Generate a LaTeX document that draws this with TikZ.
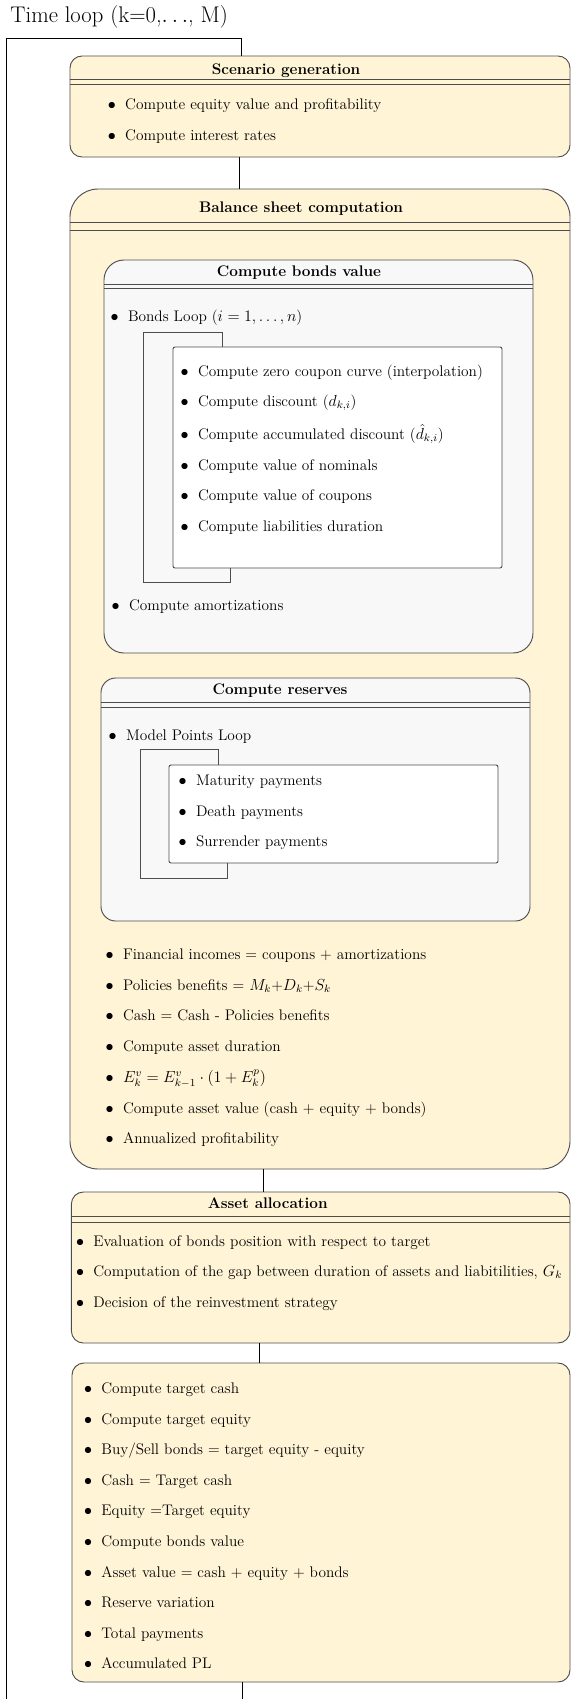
\documentclass[tikz,border=0pt]{standalone}
\usepackage{tikz}
\usetikzlibrary{fit}
\definecolor{stateyellow}{HTML}{FFF4D6}
\definecolor{stategray}{HTML}{F8F8F8}
\definecolor{stateline}{HTML}{4D4D4D}
\newcommand{\bul}{$\bullet$\hspace{7pt}}

\begin{document}
\begin{tikzpicture}[x=0.75pt,y=-0.75pt,line width=0.7pt,font=\fontsize{11.5}{14}\selectfont]
      \useasboundingbox (0,0) rectangle (571,1699);
      \tikzstyle{bigbox}=[draw=stateline,fill=stateyellow,rounded corners=9pt,inner sep=0]
      \tikzstyle{subbox}=[draw=stateline,fill=stategray,rounded corners=15pt,inner sep=0]
      \tikzstyle{loopbox}=[draw=stateline,fill=white,rounded corners=1.5pt,inner sep=0]
      \tikzstyle{loopline}=[draw=stateline,line width=0.6pt]
      \tikzstyle{title}=[font=\fontsize{11.5}{14}\selectfont\bfseries,inner sep=0]
      \tikzstyle{itm}=[anchor=base west,inner sep=0]

      \node[anchor=base west,inner sep=0,font=\fontsize{17}{20}\selectfont] (looptitle) at (10,22.5) {Time loop (k=0,$\ldots$, M)};

      % scenario
      \node[bigbox,fit={(70,56) (570,157)}] (scen) {};
      \node[title] (scent) at (286,71) {Scenario generation};
      \draw[stateline] ([yshift=-18pt]scen.north west) -- ([yshift=-18pt]scen.north east);
      \draw[stateline] ([yshift=-21.75pt]scen.north west) -- ([yshift=-21.75pt]scen.north east);
      \node[itm] (s1) at (107.4,109.5) {\bul Compute equity value and profitability};
      \node[itm] (s2) at (107.4,140.5) {\bul Compute interest rates};

      % balance sheet
      \node[bigbox,rounded corners=21pt,fit={(70,189) (570,1169)}] (bal) {};
      \node[title] (balt) at (301,209) {Balance sheet computation};
      \draw[stateline] ([yshift=-25.5pt]bal.north west) -- ([yshift=-25.5pt]bal.north east);
      \draw[stateline] ([yshift=-31.5pt]bal.north west) -- ([yshift=-31.5pt]bal.north east);

      % bonds
      \node[subbox,fit={(104,260) (533,653)}] (bonds) {};
      \node[title] (bondst) at (299,273) {Compute bonds value};
      \draw[stateline] ([yshift=-18.75pt]bonds.north west) -- ([yshift=-18.75pt]bonds.north east);
      \draw[stateline] ([yshift=-21.75pt]bonds.north west) -- ([yshift=-21.75pt]bonds.north east);
      \node[itm] (b0) at (110.2,321.5) {\bul Bonds Loop ($i=1,\ldots,n$)};
      \coordinate (bl1) at (143,332);
      \coordinate (bl2) at (222,332);
      \coordinate (bl3) at (143,582);
      \coordinate (bl4) at (230,582);
      \node[loopbox,fit={(173,347) (502,568)}] (bondsin) {};
      \draw[loopline] (bl3) -- (bl1) -- (bl2) -- (bondsin.north -| bl2);
      \draw[loopline] (bl3) -- (bl4) -- (bondsin.south -| bl4);
      \node[itm] (b1) at (180.2,376.5) {\bul Compute zero coupon curve (interpolation)};
      \node[itm] (b2) at (180.2,406.5) {\bul Compute discount ($d_{k,i}$)};
      \node[itm] (b3) at (180.2,439.5) {\bul Compute accumulated discount ($\hat{d}_{k,i}$)};
      \node[itm] (b4) at (180.2,470.5) {\bul Compute value of nominals};
      \node[itm] (b5) at (180.2,500.5) {\bul Compute value of coupons};
      \node[itm] (b6) at (180.2,531.5) {\bul Compute liabilities duration};
      \node[itm] (b7) at (111.2,610.5) {\bul Compute amortizations};

      % reserves
      \node[subbox,rounded corners=11pt,fit={(101,678) (530,921)}] (res) {};
      \node[title] (rest) at (280,691) {Compute reserves};
      \draw[stateline] ([yshift=-18.75pt]res.north west) -- ([yshift=-18.75pt]res.north east);
      \draw[stateline] ([yshift=-22.5pt]res.north west) -- ([yshift=-22.5pt]res.north east);
      \node[itm] (r0) at (108.2,740.5) {\bul Model Points Loop};
      \coordinate (rl1) at (140,749);
      \coordinate (rl2) at (218,749);
      \coordinate (rl3) at (140,878);
      \coordinate (rl4) at (227,878);
      \node[loopbox,fit={(169,765) (498,863)}] (resin) {};
      \draw[loopline] (rl3) -- (rl1) -- (rl2) -- (resin.north -| rl2);
      \draw[loopline] (rl3) -- (rl4) -- (resin.south -| rl4);
      \node[itm] (r1) at (178.2,785.5) {\bul Maturity payments};
      \node[itm] (r2) at (178.2,816.5) {\bul Death payments};
      \node[itm] (r3) at (178.2,846.5) {\bul Surrender payments};

      \node[itm] (c1) at (105.2,959.5) {\bul Financial incomes = coupons + amortizations};
      \node[itm] (c2) at (105.2,990.5) {\bul Policies benefits = $M_k$+$D_k$+$S_k$};
      \node[itm] (c3) at (105.2,1020.5) {\bul Cash = Cash - Policies benefits};
      \node[itm] (c4) at (105.2,1051.5) {\bul Compute asset duration};
      \node[itm] (c5) at (105.2,1082.5) {\bul $E^v_k = E^v_{k-1}\cdot(1+E^p_k)$};
      \node[itm] (c6) at (105.2,1113.5) {\bul Compute asset value (cash + equity + bonds)};
      \node[itm] (c7) at (105.2,1143.5) {\bul Annualized profitability};

      % asset allocation
      \node[bigbox,fit={(71.4,1192) (570,1343)}] (alloc) {};
      \node[title] (alloct) at (267.7,1203) {Asset allocation};
      \draw[stateline] ([yshift=-18.75pt]alloc.north west) -- ([yshift=-18.75pt]alloc.north east);
      \draw[stateline] ([yshift=-23.25pt]alloc.north west) -- ([yshift=-23.25pt]alloc.north east);
      \node[itm] (a1) at (75.6,1246.5) {\bul Evaluation of bonds position with respect to target};
      \node[itm] (a2) at (75.6,1276.5) {\bul Computation of the gap between duration of assets and liabitilities, $G_k$};
      \node[itm] (a3) at (75.6,1307.5) {\bul Decision of the reinvestment strategy};

      % reinvestment
      \node[bigbox,fit={(72,1363) (570,1682)}] (reinv) {};
      \node[itm] (e1) at (83.6,1393.5) {\bul Compute target cash};
      \node[itm] (e2) at (83.6,1424.1) {\bul Compute target equity};
      \node[itm] (e3) at (83.6,1454.7) {\bul Buy/Sell bonds = target equity - equity};
      \node[itm] (e4) at (83.6,1485.3) {\bul Cash = Target cash};
      \node[itm] (e5) at (83.6,1515.9) {\bul Equity =Target equity};
      \node[itm] (e6) at (83.6,1546.5) {\bul Compute bonds value};
      \node[itm] (e7) at (83.6,1577.1) {\bul Asset value = cash + equity + bonds};
      \node[itm] (e8) at (83.6,1607.7) {\bul Reserve variation};
      \node[itm] (e9) at (83.6,1638.3) {\bul Total payments};
      \node[itm] (e10) at (83.6,1668.9) {\bul Accumulated PL};

      % time loop and connectors
      \coordinate (tl0) at (6,1699);
      \coordinate (tl1) at (6,38);
      \coordinate (tl2) at (241,38);
      \coordinate (j1) at (239.3,0);
      \coordinate (j2) at (263,0);
      \coordinate (j3) at (259.7,0);
      \coordinate (j4) at (242.2,1699);

      \draw (tl0) -- (tl1) -- (tl2) -- (scen.north -| tl2);
      \draw (scen.south -| j1) -- (bal.north -| j1);
      \draw (bal.south -| j2) -- (alloc.north -| j2);
      \draw (alloc.south -| j3) -- (reinv.north -| j3);
      \draw (reinv.south -| j4) -- (j4);

    \end{tikzpicture}
\end{document}
